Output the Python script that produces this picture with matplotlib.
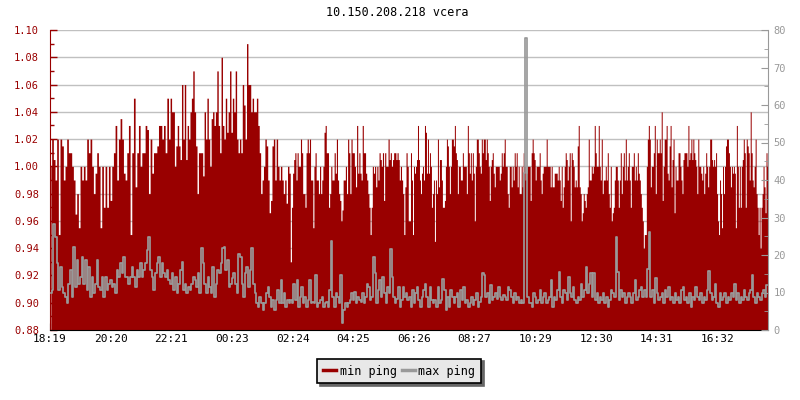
import matplotlib
matplotlib.use('Agg')
import matplotlib.pyplot as plt
from matplotlib.lines import Line2D
from matplotlib.ticker import MultipleLocator
import numpy as np

# min ping (left axis) in six time blocks
min_ping_1 = [1.00, 1.02, 1.005, 0.99, 1.02, 0.95, 1.02, 1.015, 0.99, 1.00, 1.02, 1.01, 1.01, 1.00, 0.99, 0.965,
              0.98, 0.955, 1.00, 0.99, 1.00, 0.99, 1.02, 1.01, 1.02, 1.00, 0.98, 0.995, 1.01, 1.00, 0.955, 1.00,
              0.97, 1.00, 0.97, 1.00, 0.975, 1.00, 1.01, 1.03, 0.99, 1.02, 1.035, 1.02, 0.995, 0.99, 1.01, 1.03,
              0.95, 1.01, 1.05, 0.985, 1.01, 1.03, 1.00, 1.01, 1.01, 1.03, 1.027, 0.98, 1.02, 0.995, 1.01, 1.01,
              1.015, 1.03, 1.03, 1.02, 1.03, 1.01, 1.05, 1.02]
min_ping_2 = [1.05, 1.04, 1.04, 1.00, 1.015, 1.03, 1.015, 1.005, 1.06, 1.02, 1.06, 1.005, 1.03, 1.02, 1.04, 1.05,
              1.07, 1.04, 1.015, 0.98, 1.01, 1.01, 1.01, 0.993, 1.04, 1.02, 1.05, 1.02, 1.00, 1.035, 1.04, 1.03,
              1.04, 1.07, 1.03, 1.01, 1.08, 1.03, 1.02, 1.05, 1.025, 1.04, 1.07, 1.025, 1.05, 1.04, 1.07, 1.02,
              1.01, 1.02, 1.01, 1.06, 1.045, 1.02, 1.09, 1.06, 1.06, 1.04, 1.05, 1.04, 1.04, 1.05, 1.03, 1.01,
              0.98, 0.99, 1.00, 1.02, 1.015, 0.99, 0.966, 0.975, 1.015, 1.02, 0.99, 1.02, 1.00, 0.99, 1.00, 0.99,
              0.98, 0.99, 0.973, 1.00, 0.995]
min_ping_3 = [0.93, 0.97, 0.995, 1.005, 1.01, 0.99, 1.01, 1.00, 1.00, 1.02, 1.01, 0.98, 0.98, 0.97, 1.01, 1.02,
              1.01, 1.02, 0.99, 0.99, 0.955, 1.00, 1.01, 0.99, 0.99, 0.98, 1.00, 0.98, 0.99, 1.00, 1.025, 1.03,
              1.01, 1.01, 0.97, 0.98, 1.00, 0.99, 0.99, 1.01, 0.995, 1.02, 0.99, 0.98, 0.975, 0.96, 0.968, 0.99,
              0.99, 1.00, 0.98, 1.02, 1.01, 0.98, 1.02, 1.01, 1.01, 1.00, 0.985, 1.03, 0.995, 1.01, 0.995, 0.99,
              1.03, 1.01, 1.01, 0.995, 0.99, 0.98, 0.97, 0.95, 0.97, 1.00, 0.995, 1.00, 0.985, 1.00, 0.99, 1.01,
              1.005, 1.00, 1.01, 0.975, 1.01, 1.00, 1.00, 1.02, 1.005, 1.01, 1.00, 1.005, 1.01, 1.01, 1.005, 1.01,
              1.005, 0.99, 1.00, 0.99, 0.98, 0.95, 0.985, 1.01, 1.00, 0.96, 0.96]
min_ping_4 = [1.01, 0.99, 0.95, 1.00, 0.995, 1.00, 1.005, 1.03, 1.005, 0.99, 0.98, 0.995, 1.00, 0.99, 1.03, 1.025,
              0.995, 1.02, 0.995, 1.01, 1.00, 0.97, 0.98, 0.99, 0.945, 0.99, 0.98, 1.02, 0.985, 1.005, 1.005, 0.99,
              0.97, 0.97, 0.975, 1.00, 1.02, 1.015, 1.00, 0.98, 1.00, 1.02, 1.02, 1.015, 1.03, 1.01, 1.005, 0.98,
              1.00, 1.00, 0.99, 0.99, 1.01, 1.00, 1.00, 1.00, 0.98, 1.03, 1.01, 0.995, 1.01, 0.99, 1.01, 0.995,
              0.96, 1.00, 1.02, 1.02, 1.01, 1.00, 0.995, 1.02, 1.01, 1.02, 1.02, 1.005, 1.02, 1.01, 1.00, 0.975,
              1.00, 1.005, 1.01, 0.995, 0.985, 1.00, 1.00, 1.00, 1.00, 0.99, 0.995, 1.01, 1.00, 1.01, 1.02, 1.00,
              1.00, 0.98, 0.97, 1.00, 1.00, 0.985, 1.00, 0.99, 1.01, 1.00, 1.01, 0.985, 1.00, 0.98, 0.98, 1.00,
              0.985, 1.01, 1.00, 0.99, 0.995, 1.00, 1.00, 1.00]
min_ping_5 = [0.975, 1.01, 1.02, 1.01, 1.005, 0.99, 1.00, 1.00, 1.00, 1.01, 0.99, 0.98, 0.995, 1.00, 1.00, 1.00,
              1.02, 1.00, 1.00, 1.00, 0.985, 1.00, 0.985, 0.985, 0.995, 0.995, 0.995, 0.99, 1.00, 0.99, 0.975, 1.00,
              0.97, 0.985, 1.00, 1.01, 1.005, 0.99, 1.00, 1.01, 0.96, 1.01, 1.005, 1.00, 0.985, 0.99, 0.985, 1.015,
              1.03, 0.985, 0.98, 0.96, 0.966, 0.98, 0.975, 0.97, 0.98, 0.985, 1.02, 0.99, 0.99, 1.00, 0.995, 1.00,
              1.03, 1.01, 1.00, 1.00, 1.03, 1.00, 0.99, 1.02, 0.98, 0.99, 0.99, 1.00, 0.99, 1.01, 0.98, 0.97,
              1.00, 0.96, 0.966, 0.97, 0.99, 1.00, 1.00, 0.99, 0.97, 0.99, 1.01, 0.98, 1.00, 1.01, 0.99, 1.02,
              0.99, 1.00, 1.01, 0.99, 0.97, 1.00, 1.00, 1.01, 0.99, 1.00, 0.99, 1.01, 0.995, 0.99, 0.98, 0.97,
              0.96, 0.94, 0.95, 0.95, 1.00, 1.02, 1.03, 1.02]
min_ping_6 = [0.985, 1.00, 1.00, 1.01, 1.03, 0.98, 1.02, 1.01, 1.01, 1.02, 1.01, 1.04, 0.975, 1.00, 1.02, 1.02,
              1.03, 0.995, 0.99, 1.015, 1.03, 0.985, 1.005, 1.02, 0.966, 1.00, 0.99, 0.99, 1.01, 1.01, 1.00, 0.99,
              0.98, 1.005, 1.01, 1.01, 1.01, 1.00, 1.03, 1.005, 1.01, 1.02, 1.005, 1.02, 1.01, 1.005, 1.00, 0.98,
              1.02, 1.00, 1.00, 0.995, 0.99, 1.00, 0.98, 0.995, 1.01, 1.00, 0.985, 1.00, 1.02, 1.02, 1.005, 1.00,
              1.005, 1.00, 1.01, 0.98, 0.96, 0.95, 0.99, 0.98, 0.955, 1.00, 0.98, 1.00, 1.015, 1.02, 1.02, 1.01,
              1.00, 0.985, 1.00, 0.995, 1.00, 0.995, 0.955, 1.03, 1.00, 0.97, 1.00, 0.97, 1.00, 1.005, 1.02, 1.01,
              0.97, 1.02, 1.015, 1.01, 0.99, 1.04, 1.01, 0.99, 0.985, 1.00, 1.02, 0.98, 0.97, 0.95, 0.97, 0.94,
              0.97, 0.98, 1.00, 0.985, 0.966, 1.01, 1.00]

# max ping (right axis)
max_ping_1 = [9.8, 10.7, 28.4, 24.9, 17.8, 10.7, 16.9, 11.6, 9.8, 8.9, 7.1, 12.4, 16, 8.9, 22.2, 11.6, 18.7, 12.4,
              14.2, 19.6, 12.4, 18.7, 10.7, 16.9, 8.9, 14.2, 9.8, 12.4, 18.7, 11.6, 10.7, 14.2, 8.9, 14.2, 10.7, 12.4,
              13.3, 11.6, 12.4, 9.8, 16, 14.2, 17.8, 15.1, 19.6, 14.2, 14.2, 12.4, 14.2, 16.9, 14.2, 11.6, 16, 14.2,
              17.8, 14.2, 16, 17.8, 21.3, 24.9, 16, 14.2, 10.7, 15.1, 17.8, 19.6, 14.2, 17.8, 15.1, 14.2, 16, 13.3]
max_ping_2 = [12.4, 15.1, 10.7, 14.2, 9.8, 12.4, 16, 18.2, 10.7, 12.4, 9.8, 11.6, 10.7, 12.4, 14.2, 13.3, 11.6, 15.1,
              9.8, 21.8, 17.8, 12.4, 9.8, 14.2, 11.6, 9.8, 16.9, 8.9, 12.4, 16, 15.1, 17.8, 21.8, 22.2, 16, 18.7,
              11.6, 12.4, 13.8, 15.1, 12.4, 9.8, 20.4, 19.6, 12.4, 8.9, 15.1, 16.9, 11.6, 16, 21.8, 12.4, 9.8, 7.1,
              6.2, 8.9, 7.1, 5.3, 7.1, 9.8, 11.6, 8.9, 6.2, 8, 5.3, 8, 10.7, 7.1, 13.3, 7.1, 9.8, 6.2, 8, 7.1]
max_ping_3 = [8, 7.1, 12.4, 8, 13.3, 6.2, 8.9, 11.6, 7.1, 8.9, 6.2, 8, 13.3, 7.1, 7.6, 7.1, 14.7, 6.2, 7.1, 8,
              8.9, 6.2, 7.1, 7.6, 6.2, 10.7, 23.8, 8.9, 6.2, 9.8, 8.9, 7.1, 14.7, 1.8, 5.3, 7.1, 6.2, 7.1, 8, 9.8,
              8, 10.2, 7.1, 8.9, 8, 7.6, 9.8, 7.1, 8.9, 12.4, 11.6, 8, 8.9, 19.6, 15.1, 7.1, 10.7, 13.3, 8.9, 14.2,
              9.8, 7.1, 11.6, 9.8, 21.7, 14.2, 8.9, 7.1, 8.4, 11.6, 6.2, 8, 11.6, 8.9, 9.8, 8, 8.9]
max_ping_4 = [6.2, 10.7, 7.1, 9.8, 11.6, 8, 6.2, 8.9, 10.7, 12.4, 8.9, 6.2, 11.6, 8, 7.1, 8, 6.2, 11.6, 7.1, 8,
              13.5, 10.7, 5.3, 8.9, 6.2, 10.7, 8.9, 7.1, 8.9, 9.8, 6.2, 10.7, 8, 11.6, 7.1, 8, 6.2, 7.1, 8.9, 6.7,
              8, 9.8, 6.2, 7.6, 8.9, 15.1, 14.7, 8.9, 9.8, 7.1, 12, 8, 8.9, 9.8, 8.4, 11.6, 8.9, 8, 9.3, 8.9,
              8, 11.6, 10.7, 8.9, 7.1, 9.8, 8, 8.9, 7.1, 8, 7.1, 42, 78, 8.9, 7.1]
max_ping_5 = [7.1, 6.2, 9.8, 8.9, 7.1, 8, 10.7, 7.1, 8.9, 9.8, 7.1, 8, 8.9, 13.3, 6.2, 8.9, 8, 10.7, 15.6, 8.9,
              7.1, 10.7, 9.8, 8, 14.2, 9.8, 8.9, 11.6, 8, 7.1, 8.9, 8, 12.4, 8.9, 10.7, 16.9, 9.8, 12.4, 15.1, 8.9,
              15.1, 8, 9.8, 7.1, 8.9, 8, 9.8, 7.1, 8.9, 6.2, 8, 10.7, 9.8, 8.9, 24.7, 15.6, 8, 10.7, 8.9, 9.8,
              7.1, 8.9, 9.8, 8.9, 7.1, 9.8, 13.3, 8, 8.9, 10.7, 11.6, 8.9, 10.7, 8.9, 16.4, 26.2]
max_ping_6 = [8.9, 10.7, 7.1, 13.8, 9.8, 8, 8.9, 9.8, 7.1, 10.7, 8.9, 11.6, 8, 8.9, 7.1, 9.8, 8, 8.9, 7.1, 10.7,
              11.6, 8, 8.9, 7.1, 9.8, 6.2, 8.9, 8, 11.6, 8.9, 8, 9.8, 7.1, 8.9, 8, 10.7, 15.7, 9.8, 8, 8.9,
              12.4, 7.1, 6.2, 9.8, 8, 8.9, 9.8, 7.1, 8.9, 8, 9.8, 8.9, 12.4, 8, 9.8, 7.1, 8.9, 8, 10.7, 8.9,
              8, 9.8, 10.7, 14.8, 8.9, 7.1, 9.8, 8.9, 8, 9.8, 10.7, 8.9, 12.0]

# block boundaries in minutes after 18:19
block_edges = [0, 240, 480, 720, 959, 1199, 1434]
tick_minutes = [0, 121, 242, 364, 485, 606, 727, 848, 970, 1091, 1212, 1333]
tick_labels = ['18:19', '20:20', '22:21', '00:23', '02:24', '04:25', '06:26', '08:27',
               '10:29', '12:30', '14:31', '16:32']

RED = '#990000'
GREY = '#999999'
FONT = 'DejaVu Sans Mono'


def block_times(blocks):
    xs = []
    for i, b in enumerate(blocks):
        a, e = block_edges[i], block_edges[i + 1]
        step = (e - a) / len(b)
        xs.append(a + step * (np.arange(len(b)) + 0.5))
    return np.concatenate(xs)


min_blocks = [min_ping_1, min_ping_2, min_ping_3, min_ping_4, min_ping_5, min_ping_6]
max_blocks = [max_ping_1, max_ping_2, max_ping_3, max_ping_4, max_ping_5, max_ping_6]
x_min = block_times(min_blocks)
y_min = np.concatenate(min_blocks)
x_max = block_times(max_blocks)
y_max = np.concatenate(max_blocks)

fig = plt.figure(figsize=(8, 4), dpi=100)
ax = fig.add_axes([50 / 800, 70 / 400, 718 / 800, 300 / 400])
ax2 = ax.twinx()

ax.fill_between(x_min, 0.88, y_min, step='mid', color=RED, lw=0, antialiased=False, zorder=2)
ax2.plot(x_max, y_max, drawstyle='steps-mid', color=GREY, lw=1.25)

ax.set_xlim(0, 1434)
ax.set_ylim(0.88, 1.10)
ax2.set_ylim(0, 80)

ax.yaxis.set_major_locator(MultipleLocator(0.02))
ax.yaxis.set_minor_locator(MultipleLocator(0.01))
ax2.yaxis.set_major_locator(MultipleLocator(10))
ax2.yaxis.set_minor_locator(MultipleLocator(5))
ax.set_xticks(tick_minutes)
ax.set_xticklabels(tick_labels)
ax.yaxis.set_major_formatter(plt.FuncFormatter(lambda v, p: f'{v:.2f}'))

ax.grid(True, axis='y', color='#c0c0c0', lw=1, zorder=0)
ax.set_axisbelow(True)

ax.tick_params(axis='y', which='both', direction='in', colors=RED, labelsize=7.5, pad=8)
ax.tick_params(axis='y', which='major', length=5, width=1)
ax.tick_params(axis='y', which='minor', length=3, width=1)
ax.tick_params(axis='x', direction='in', length=5, colors='black', labelsize=8, pad=3)
ax2.tick_params(axis='y', which='both', direction='in', colors=GREY, labelsize=7.5, pad=4)
ax2.tick_params(axis='y', which='major', length=5)
ax2.tick_params(axis='y', which='minor', length=3)

for lab in ax.get_xticklabels() + ax.get_yticklabels() + ax2.get_yticklabels():
    lab.set_family(FONT)

for a in (ax, ax2):
    a.spines['top'].set_visible(False)
ax.spines['right'].set_visible(False)
ax2.spines['left'].set_visible(False)
ax2.spines['bottom'].set_visible(False)
ax.spines['left'].set_color(RED)
ax.spines['bottom'].set_color('black')
ax2.spines['right'].set_color(GREY)

fig.text(0.497, 1 - 13 / 400, '10.150.208.218 vcera', ha='center', va='center',
         family=FONT, fontsize=8.5)

handles = [Line2D([], [], color=RED, lw=2.5), Line2D([], [], color=GREY, lw=2.5)]
leg = fig.legend(handles, ['min ping', 'max ping'], loc='center', bbox_to_anchor=(0.499, 0.0725),
                 ncol=2, frameon=True, fancybox=False, shadow={'color': '#666666', 'alpha': 1},
                 edgecolor='black', facecolor='#e8e8e8', framealpha=1,
                 prop={'family': FONT, 'size': 8.5}, handlelength=1.1, handletextpad=0.3,
                 columnspacing=0.4, borderpad=0.5)
leg.get_frame().set_linewidth(1.2)

plt.savefig('out.png', dpi=100)
plt.close()
